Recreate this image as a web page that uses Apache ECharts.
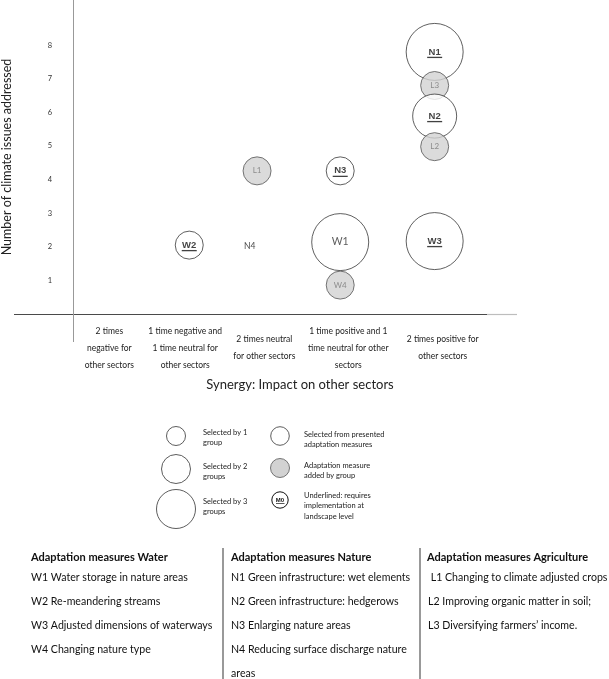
<!DOCTYPE html>
<html><head><meta charset="utf-8">
<script src="https://cdn.jsdelivr.net/npm/echarts@6/dist/echarts.min.js"></script>
<style>html,body{margin:0;padding:0;background:#fff}#c{width:609px;height:679px}</style>
</head><body><div id="c"></div>
<script>
// ---- data ----
const measures        = ['W2','N4','L1','N3','W1','W4','N1','L3','N2','L2','W3'];
const synergyPos      = [1.44,2.19,2.28,3.31,3.31,3.31,4.48,4.48,4.48,4.48,4.48];
const climateIssues   = [2.05,2.03,4.26,4.26,2.14,0.86,7.80,6.80,5.89,4.98,2.17];
const groupsSelected  = [1,0,1,1,3,1,3,1,2,1,3];
const addedByGroup    = [false,false,true,false,false,true,false,true,false,true,false];
const landscapeLevel  = [true,false,false,true,false,false,true,false,true,false,true];

const xCategoryPos    = [0.45,1.39,2.37,3.41,4.58];
const xCategoryLabels = ['2 times\nnegative for\nother sectors',
                         '1 time negative and\n1 time neutral for\nother sectors',
                         '2 times neutral\nfor other sectors',
                         '1 time positive and 1\ntime neutral for other\nsectors',
                         '2 times positive for\nother sectors'];
const yTicks = [1,2,3,4,5,6,7,8];

const waterMeasures  = ['W1 Water storage in nature areas','W2 Re-meandering streams','W3 Adjusted dimensions of waterways','W4 Changing nature type'];
const natureMeasures = ['N1 Green infrastructure: wet elements','N2 Green infrastructure: hedgerows','N3 Enlarging nature areas','N4 Reducing surface discharge nature','areas'];
const agriMeasures   = [' L1 Changing to climate adjusted crops','L2 Improving organic matter in soil;','L3 Diversifying farmers\u2019 income.'];
const tableHeaders   = ['Adaptation measures Water','Adaptation measures Nature','Adaptation measures Agriculture'];

// ---- styles ----
const sizeByGroups = [0, 28, 44, 57];
const FONT = 'Lato, "Open Sans", sans-serif';

const data = measures.map((m, i) => {
  const g = groupsSelected[i];
  let itemStyle, label;
  if (g === 0) itemStyle = {color:'rgba(0,0,0,0)', borderWidth:0};
  else if (addedByGroup[i]) itemStyle = {color:'#d2d2d2', borderColor:'#444', borderWidth:0.9};
  else itemStyle = {color:'#fff', borderColor:'#222', borderWidth:0.9};
  if (landscapeLevel[i]) label = {fontWeight:'bold', fontSize:9.5, color:'#111', fontFamily:'"Liberation Sans", Arial, sans-serif'};
  else if (addedByGroup[i]) label = {fontSize:8, color:'#777', fontFamily:FONT};
  else if (g === 0) label = {fontSize:8.5, color:'#111', fontFamily:FONT};
  else label = {fontSize:10.5, color:'#333', fontFamily:FONT};
  return {name:m, value:[synergyPos[i], climateIssues[i]], symbolSize:sizeByGroups[g], itemStyle, label};
});
const underlineData = measures.map((m,i)=>landscapeLevel[i] ? [synergyPos[i], climateIssues[i]] : null).filter(Boolean);

const graphics = [];
// axis extensions
graphics.push({type:'line', shape:{x1:14,y1:314.5,x2:487,y2:314.5}, style:{stroke:'#4a4a4a', lineWidth:1.2}, silent:true});
graphics.push({type:'line', shape:{x1:487,y1:314.5,x2:517,y2:314.5}, style:{stroke:'#bdbdbd', lineWidth:1.2}, silent:true});
graphics.push({type:'line', shape:{x1:73.5,y1:314,x2:73.5,y2:342}, style:{stroke:'#999', lineWidth:1}, silent:true});
// x axis title
graphics.push({type:'text', x:300, y:385, style:{text:'Synergy: Impact on other sectors', font:'13px '+FONT, fill:'#222', textAlign:'center', textVerticalAlign:'middle'}});

// legend
const legFont = '7.5px '+FONT;
[[176,436,9.5],[176,469,14.5],[176,509,19.5]].forEach(c=>graphics.push({type:'circle', shape:{cx:c[0],cy:c[1],r:c[2]}, style:{fill:'#fff', stroke:'#333', lineWidth:0.8}}));
graphics.push({type:'circle', shape:{cx:280,cy:436,r:9.3}, style:{fill:'#fff', stroke:'#333', lineWidth:0.8}});
graphics.push({type:'circle', shape:{cx:280,cy:468,r:9.5}, style:{fill:'#d2d2d2', stroke:'#555', lineWidth:0.8}});
graphics.push({type:'circle', shape:{cx:280,cy:500,r:8.2}, style:{fill:'#fff', stroke:'#111', lineWidth:1}});
graphics.push({type:'text', x:280, y:500, style:{text:'M0', font:'bold 6px "Liberation Sans", Arial', fill:'#111', textAlign:'center', textVerticalAlign:'middle'}});
graphics.push({type:'line', shape:{x1:276,y1:503.5,x2:284.5,y2:503.5}, style:{stroke:'#111', lineWidth:0.7}});
const legTexts = [[203,432,'Selected by 1\ngroup'],[203,466,'Selected by 2\ngroups'],[203,501,'Selected by 3\ngroups'],
                  [304,434,'Selected from presented\nadaptation measures'],[304,465,'Adaptation measure\nadded by group'],[304,495,'Underlined: requires\nimplementation at\nlandscape level']];
legTexts.forEach(t=>graphics.push({type:'text', x:t[0], y:t[1]-5, style:{text:t[2], font:legFont, fill:'#222', lineHeight:10.5, textAlign:'left', textVerticalAlign:'top'}}));

// table
const colX = [31, 231, 427];
const itemX = [31, 231, 428];
const cols = [waterMeasures, natureMeasures, agriMeasures];
tableHeaders.forEach((h,k)=>graphics.push({type:'text', x:colX[k], y:557, style:{text:h, font:'bold 11px '+FONT, fill:'#111', textVerticalAlign:'middle'}}));
cols.forEach((list,k)=>list.forEach((t,j)=>graphics.push({type:'text', x:itemX[k], y:578+j*24, style:{text:t, font:'10.6px '+FONT, fill:'#111', textVerticalAlign:'middle'}})));
[223,420].forEach(x=>graphics.push({type:'line', shape:{x1:x,y1:548,x2:x,y2:679}, style:{stroke:'#555', lineWidth:1.2}}));

const chart = echarts.init(document.getElementById('c'), null, {renderer:'canvas'});
chart.setOption({
  animation:false,
  backgroundColor:'#fff',
  grid:{left:73, top:0, width:444, height:314, containLabel:false, outerBoundsMode:'none'},
  xAxis:{
    type:'value', min:0, max:5.5,
    axisLine:{show:false}, axisTick:{show:false}, splitLine:{show:false},
    axisLabel:{
      customValues:xCategoryPos,
      formatter:(v)=>{const i=xCategoryPos.findIndex(p=>Math.abs(p-v)<1e-6); return i>=0?xCategoryLabels[i]:'';},
      fontSize:8.5, lineHeight:17, color:'#222', fontFamily:FONT, verticalAlign:'middle', margin:34, align:'center'
    }
  },
  yAxis:{
    type:'value', min:0, max:9.345,
    axisLine:{show:true, lineStyle:{color:'#999', width:1}},
    axisTick:{show:false}, splitLine:{show:false},
    axisLabel:{customValues:yTicks, fontSize:7.5, color:'#333', margin:21, fontFamily:FONT},
    name:'Number of climate issues addressed', nameLocation:'middle', nameGap:60, nameRotate:90,
    nameTextStyle:{fontSize:12.5, color:'#222', fontFamily:FONT}
  },
  series:[
    {type:'scatter', data:data, symbol:'circle', z:2,
     label:{show:true, position:'inside', formatter:'{b}'}},
    {type:'scatter', data:underlineData, symbol:'rect', symbolSize:[15,1.3], symbolOffset:[0,5.5], z:3, silent:true,
     itemStyle:{color:'#111'}, label:{show:false}}
  ],
  graphic:graphics
});
</script>
</body></html>
